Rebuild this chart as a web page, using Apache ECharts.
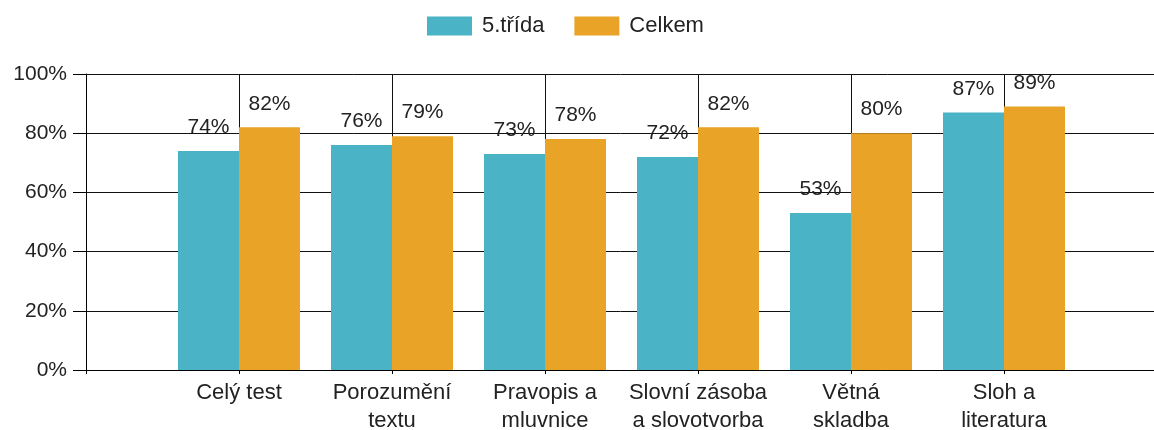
<!DOCTYPE html>
<html>
<head>
<meta charset="utf-8">
<script src="https://cdn.jsdelivr.net/npm/echarts@6/dist/echarts.min.js"></script>
<style>
  html, body { margin: 0; padding: 0; background: #fff; }
  #chart { width: 1154px; height: 430px; }
</style>
</head>
<body>
<div id="chart"></div>
<script>
// kategorie (prázdné krajní body kvůli posunu os)
var categories = ['Celý test', 'Porozumění\ntextu', 'Pravopis a\nmluvnice', 'Slovní zásoba\na slovotvorba', 'Větná\nskladba', 'Sloh a\nliteratura'];
var trida5 = [74, 76, 73, 72, 53, 87];
var celkem = [82, 79, 78, 82, 80, 89];
var yTicks = [0, 20, 40, 60, 80, 100];

var axisData = [''].concat(categories, ['']);
function pad(arr) { return [null].concat(arr, [null]); }

var myChart = echarts.init(document.getElementById('chart'));
var font = 'Liberation Sans, Arial, sans-serif';

var option = {
  animation: false,
  textStyle: { fontFamily: font },
  legend: {
    top: 10,
    left: 422,
    icon: 'rect',
    itemWidth: 45,
    itemHeight: 19,
    itemGap: 30,
    textStyle: { fontSize: 22, color: '#222', fontFamily: font, padding: [0, 0, 0, 5] },
    data: ['5.třída', 'Celkem']
  },
  grid: { left: 86, top: 74, bottom: 60, width: 1071, outerBoundsMode: 'none', containLabel: false },
  xAxis: {
    type: 'category',
    data: axisData,
    boundaryGap: false,
    axisLine: { lineStyle: { color: '#000', width: 1 } },
    axisTick: { show: true, length: 4, interval: 0, lineStyle: { color: '#000' } },
    splitLine: { show: true, interval: 0, lineStyle: { color: '#111', width: 1 } },
    axisLabel: { interval: 0, fontSize: 22, color: '#222', margin: 9, lineHeight: 28, fontFamily: font }
  },
  yAxis: {
    type: 'value',
    min: yTicks[0],
    max: yTicks[yTicks.length - 1],
    interval: 20,
    axisLine: { show: true, lineStyle: { color: '#000', width: 1 } },
    axisTick: { show: true, inside: false, length: 13, lineStyle: { color: '#000', width: 1 } },
    splitLine: { lineStyle: { color: '#111', width: 1 } },
    axisLabel: { formatter: '{value}%', fontSize: 21, color: '#222', margin: 19, fontFamily: font }
  },
  series: [
    {
      name: '5.třída',
      type: 'bar',
      data: pad(trida5),
      barWidth: 61,
      barGap: '0%',
      itemStyle: { color: '#4bb3c6' },
      label: { show: true, position: 'top', distance: 13, formatter: '{c}%', fontSize: 21, color: '#222', fontFamily: font }
    },
    {
      name: 'Celkem',
      type: 'bar',
      data: pad(celkem),
      barWidth: 61,
      barGap: '0%',
      itemStyle: { color: '#e9a326' },
      label: { show: true, position: 'top', distance: 13, formatter: '{c}%', fontSize: 21, color: '#222', fontFamily: font }
    }
  ]
};
myChart.setOption(option);
</script>
</body>
</html>
